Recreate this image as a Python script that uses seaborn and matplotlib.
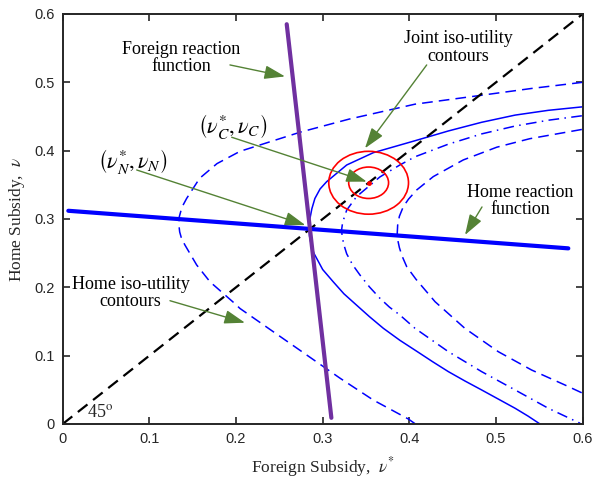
import numpy as np
import pandas as pd
import matplotlib
matplotlib.use("Agg")
import matplotlib.pyplot as plt
import seaborn as sns
from matplotlib.patches import Circle

# ---------------- data ----------------
diag_x = [0.0, 0.6]
diag_y = [0.0, 0.6]

foreign_rf_x = [0.2585, 0.310]
foreign_rf_y = [0.585, 0.009]

home_rf_x = [0.0065, 0.5834]
home_rf_y = [0.312, 0.257]

outer_x = [0.600, 0.541, 0.483, 0.4065, 0.330, 0.274, 0.2046, 0.178, 0.158, 0.143,
           0.1375, 0.1345, 0.1340, 0.1350, 0.1370, 0.141, 0.1546, 0.170, 0.197, 0.2046,
           0.243, 0.2815, 0.320, 0.3584, 0.3988, 0.407]
outer_y = [0.500, 0.491, 0.481, 0.468, 0.446, 0.427, 0.399, 0.381, 0.3595, 0.330,
           0.317, 0.303, 0.292, 0.281, 0.272, 0.262, 0.2327, 0.208, 0.178, 0.169,
           0.135, 0.101, 0.067, 0.035, 0.0073, 0.0]

solid_x = [0.599, 0.5603, 0.522, 0.4834, 0.445, 0.4065, 0.3584, 0.3277, 0.3046, 0.297,
           0.291, 0.2875, 0.2852, 0.2843, 0.2848, 0.2868, 0.2898, 0.293, 0.300, 0.3122,
           0.3245, 0.339, 0.354, 0.370, 0.389, 0.409, 0.427, 0.445, 0.464, 0.4834,
           0.503, 0.522, 0.537, 0.5507]
solid_y = [0.464, 0.459, 0.452, 0.4415, 0.4288, 0.4145, 0.397, 0.379, 0.3546, 0.344,
           0.330, 0.315, 0.300, 0.287, 0.275, 0.262, 0.250, 0.2425, 0.226, 0.208,
           0.1905, 0.174, 0.157, 0.140, 0.1225, 0.106, 0.091, 0.0766, 0.063, 0.0498,
           0.0362, 0.023, 0.0115, 0.0]

dashdot_x = [0.599, 0.5603, 0.522, 0.4834, 0.445, 0.4065, 0.389, 0.366, 0.339, 0.3277,
             0.3230, 0.3218, 0.3225, 0.3245, 0.3277, 0.3345, 0.343, 0.354, 0.366, 0.377,
             0.389, 0.4065, 0.445, 0.4834, 0.522, 0.5603, 0.597]
dashdot_y = [0.451, 0.4445, 0.436, 0.4245, 0.4095, 0.391, 0.379, 0.3615, 0.3326, 0.313,
             0.295, 0.284, 0.274, 0.262, 0.249, 0.233, 0.218, 0.2005, 0.184, 0.171,
             0.1595, 0.140, 0.1058, 0.0766, 0.0498, 0.023, 0.001]

inner_x = [0.599, 0.539, 0.5008, 0.4622, 0.4276, 0.4085, 0.399, 0.393, 0.3885, 0.3865,
           0.3860, 0.3868, 0.3885, 0.3915, 0.397, 0.4075, 0.4296, 0.464, 0.5026, 0.541,
           0.5796, 0.600]
inner_y = [0.431, 0.4175, 0.405, 0.3864, 0.362, 0.3425, 0.329, 0.318, 0.304, 0.291,
           0.279, 0.268, 0.258, 0.246, 0.230, 0.212, 0.179, 0.140, 0.1058, 0.079,
           0.057, 0.045]

joint_center = (0.353, 0.353)
joint_radii = [0.023, 0.046]

ticks = [0.0, 0.1, 0.2, 0.3, 0.4, 0.5, 0.6]
tick_labels = ["0", "0.1", "0.2", "0.3", "0.4", "0.5", "0.6"]

# annotations: text, text position, arrow start, arrow tip, font size
ann_texts = ["Foreign reaction\nfunction", "Joint iso-utility\ncontours",
             r"$\left(\nu_C^{*},\nu_C\right)$", r"$\left(\nu_N^{*},\nu_N\right)$",
             "Home reaction\nfunction", "Home iso-utility\ncontours"]
ann_text_xy = [(0.1365, 0.5356), (0.456, 0.551), (0.196, 0.436), (0.0805, 0.384),
               (0.5276, 0.3264), (0.0785, 0.1917)]
ann_start = [(0.193, 0.5254), (0.420, 0.5254), (0.195, 0.4196), (0.0854, 0.3717),
             (0.4838, 0.3176), (0.1238, 0.1804)]
ann_tip = [(0.2565, 0.5086), (0.3488, 0.4035), (0.3508, 0.3546), (0.280, 0.291),
           (0.4642, 0.2766), (0.2103, 0.1482)]
ann_size = [13, 13, 16, 16, 13, 13]

# ---------------- styling ----------------
sns.set_theme(style="ticks")
plt.rcParams['font.family'] = ['Liberation Serif', 'DejaVu Serif']
plt.rcParams['mathtext.fontset'] = 'stix'

BLUE = "#0000FF"
PURPLE = "#7030A0"
GREEN = "#548235"
RED = "#FF0000"
AXC = "#262626"

fig = plt.figure(figsize=(6.08, 4.8), dpi=100)
ax = fig.add_axes([0.1031, 0.1167, 0.8553, 0.8542])

# home iso-utility contours
frames = []
for name, xs, ys in [("outer", outer_x, outer_y), ("solid", solid_x, solid_y),
                     ("dashdot", dashdot_x, dashdot_y), ("inner", inner_x, inner_y)]:
    frames.append(pd.DataFrame({"x": xs, "y": ys, "curve": name}))
contours = pd.concat(frames, ignore_index=True)
dash_map = {"outer": (7, 4), "solid": "", "dashdot": (7, 3.5, 1, 3.5), "inner": (7, 4)}
sns.lineplot(data=contours, x="x", y="y", style="curve", dashes=dash_map,
             color=BLUE, lw=1.1, sort=False, estimator=None, legend=False, ax=ax)

# 45 degree line
sns.lineplot(x=diag_x, y=diag_y, color="black", lw=1.6, ax=ax, sort=False, estimator=None)
ax.lines[-1].set_dashes((5.5, 3.2))

# reaction functions
sns.lineplot(x=home_rf_x, y=home_rf_y, color=BLUE, lw=3.0, ax=ax, sort=False, estimator=None)
sns.lineplot(x=foreign_rf_x, y=foreign_rf_y, color=PURPLE, lw=3.0, ax=ax, sort=False, estimator=None)

# joint iso-utility contours
for r in joint_radii:
    ax.add_patch(Circle(joint_center, r, fill=False, ec=RED, lw=1.2, zorder=3))
ax.plot([joint_center[0]], [joint_center[1]], "o", color=RED, ms=2.5, zorder=3)

# annotations
for txt, txy, s, t, fs in zip(ann_texts, ann_text_xy, ann_start, ann_tip, ann_size):
    ax.text(txy[0], txy[1], txt, ha="center", va="center", fontsize=fs,
            linespacing=1.05, color="black", zorder=5)
    ax.annotate("", xy=t, xytext=s,
                arrowprops=dict(arrowstyle="-|>,head_length=0.9,head_width=0.3",
                                color=GREEN, lw=1.0, shrinkA=0, shrinkB=0,
                                mutation_scale=14), zorder=6)

ax.text(0.043, 0.017, r"45$^{\mathrm{o}}$", ha="center", va="center", fontsize=13)

# axes
ax.set_xlim(0, 0.6)
ax.set_ylim(0, 0.6)
ax.set_xticks(ticks)
ax.set_yticks(ticks)
ax.set_xticklabels(tick_labels, fontfamily="Liberation Sans", fontsize=10.5)
ax.set_yticklabels(tick_labels, fontfamily="Liberation Sans", fontsize=10.5)
ax.tick_params(direction="in", top=True, right=True, length=5, width=1.2,
               colors=AXC, pad=6)
for sp in ax.spines.values():
    sp.set_visible(True)
    sp.set_color(AXC)
    sp.set_linewidth(1.4)
ax.set_xlabel(r"Foreign Subsidy,  $\nu^{*}$", fontsize=12.5, labelpad=6)
ax.set_ylabel(r"Home Subsidy,  $\nu$", fontsize=12.5, labelpad=5)

fig.savefig("out.png", dpi=100)
